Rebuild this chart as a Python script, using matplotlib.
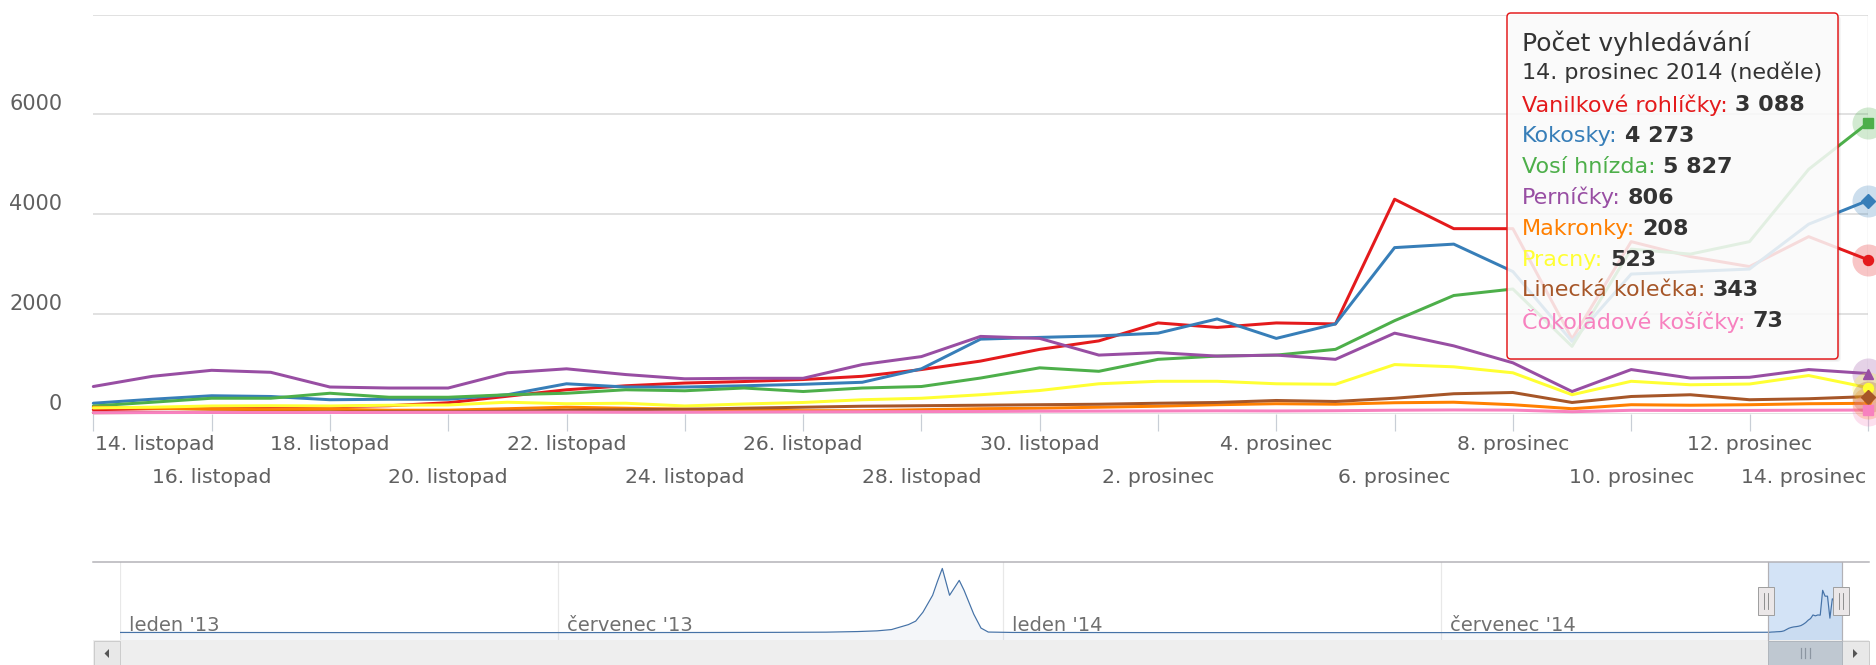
import matplotlib
matplotlib.use("Agg")
import matplotlib.pyplot as plt
from matplotlib.patches import Rectangle, FancyBboxPatch, Polygon
import pandas as pd

# denní počty vyhledávání (14. 11. - 14. 12. 2014)
dny = pd.date_range("2014-11-14", "2014-12-14", freq="D")

nazvy = ["Vanilkové rohlíčky", "Kokosky", "Vosí hnízda", "Perníčky",
         "Makronky", "Pracny", "Linecká kolečka", "Čokoládové košíčky"]
barvy = ["#E41A1C", "#377EB8", "#4DAF4A", "#984EA3",
         "#FF7F00", "#FFFF33", "#A65628", "#F781BF"]
symboly = ["o", "D", "s", "^", "v", "o", "D", "s"]

vanilkove_rohlicky = [80, 100, 110, 130, 140, 160, 220, 350, 480, 560, 615, 645, 685, 750, 885, 1055,
                      1290, 1460, 1820, 1730, 1820, 1800, 4300, 3710, 3710, 1500, 3450, 3150, 2950, 3550, 3088]
kokosky = [210, 290, 360, 345, 280, 290, 290, 380, 600, 535, 535, 560, 590, 630, 900, 1495,
           1530, 1560, 1615, 1900, 1510, 1800, 3330, 3400, 2850, 1450, 2800, 2850, 2900, 3800, 4273]
vosi_hnizda = [155, 230, 310, 310, 410, 330, 330, 380, 410, 480, 460, 515, 445, 515, 545, 715,
               920, 850, 1090, 1155, 1175, 1290, 1865, 2370, 2500, 1350, 3300, 3200, 3450, 4900, 5827]
pernicky = [545, 750, 870, 830, 535, 515, 515, 820, 900, 785, 700, 710, 710, 985, 1145, 1550,
            1510, 1175, 1225, 1155, 1175, 1090, 1615, 1360, 1020, 445, 885, 715, 730, 885, 806]
makronky = [130, 110, 90, 80, 90, 70, 70, 100, 130, 110, 90, 70, 60, 60, 80, 100,
            110, 130, 150, 180, 200, 190, 220, 230, 180, 100, 180, 170, 180, 200, 208]
pracny = [115, 130, 155, 160, 155, 170, 175, 230, 200, 210, 155, 195, 225, 280, 310, 380,
          465, 600, 650, 650, 600, 590, 985, 940, 820, 380, 650, 580, 595, 765, 523]
linecka_kolecka = [20, 25, 30, 30, 35, 40, 40, 50, 70, 80, 90, 110, 130, 150, 160, 170,
                   180, 190, 210, 225, 265, 245, 310, 400, 425, 225, 345, 380, 280, 300, 343]
cokoladove_kosicky = [20, 22, 25, 25, 24, 26, 28, 30, 32, 30, 30, 35, 38, 40, 42, 45,
                      50, 52, 55, 58, 55, 60, 70, 75, 72, 40, 68, 65, 66, 70, 73]
serie = [vanilkove_rohlicky, kokosky, vosi_hnizda, pernicky,
         makronky, pracny, linecka_kolecka, cokoladove_kosicky]

# navigátor = historie první série; řídké body, konec doplní denní data výše
nav_datumy = ["2013-01-01", "2013-02-01", "2013-03-01", "2013-04-01", "2013-05-01", "2013-06-01",
              "2013-07-01", "2013-08-01", "2013-09-01", "2013-10-01", "2013-10-20", "2013-11-02",
              "2013-11-10", "2013-11-16", "2013-11-23", "2013-11-26", "2013-11-29", "2013-12-03",
              "2013-12-05", "2013-12-07", "2013-12-10", "2013-12-14", "2013-12-16", "2013-12-20",
              "2013-12-23", "2013-12-26", "2014-01-05", "2014-03-01", "2014-06-01", "2014-09-01",
              "2014-10-15", "2014-11-01"]
nav_hodnoty = [60, 55, 50, 45, 40, 40, 45, 50, 55, 70, 90, 150,
               220, 350, 850, 1200, 2100, 3800, 5200, 6500, 3800, 5300, 4300, 1900,
               500, 100, 60, 45, 40, 50, 60, 70]

popisky_x = ["14. listopad", "16. listopad", "18. listopad", "20. listopad", "22. listopad",
             "24. listopad", "26. listopad", "28. listopad", "30. listopad", "2. prosinec",
             "4. prosinec", "6. prosinec", "8. prosinec", "10. prosinec", "12. prosinec", "14. prosinec"]
hodnoty_y = [0, 2000, 4000, 6000]
mesice_nav = ["2013-01-01", "2013-07-01", "2014-01-01", "2014-07-01"]
popisky_nav = ["leden '13", "červenec '13", "leden '14", "červenec '14"]
nadpis_tooltipu = "Počet vyhledávání"
datum_tooltipu = "14. prosinec 2014 (neděle)"

W, H = 1876, 665
PX = 0.72  # 1 px v bodech při dpi 100
SEDA = "#606060"

fig = plt.figure(figsize=(W / 100, H / 100), dpi=100)


def box(x0, y0, x1, y1):
    # pixely (počátek vlevo nahoře) -> souřadnice figury
    return [x0 / W, 1 - y1 / H, (x1 - x0) / W, (y1 - y0) / H]


# --- hlavní graf ---
ax = fig.add_axes(box(93.3, 14.7, 1867.8, 413.7))
ax.set_xlim(dny[0], dny[-1])
ax.set_ylim(0, 8000)
for s in ax.spines.values():
    s.set_visible(False)
ax.set_yticks([0, 2000, 4000, 6000, 8000])
ax.yaxis.grid(True, color="#D8D8D8", lw=1.5 * PX)
ax.tick_params(axis="y", length=0, labelleft=False)
ax.set_xticks(dny[::2])
ax.tick_params(axis="x", length=17 * PX, width=1.2 * PX, color="#C8CED6", labelbottom=False)
ax.set_axisbelow(True)

for v in hodnoty_y:
    ax.annotate(str(v), xy=(0, v), xycoords=("axes fraction", "data"), xytext=(-31, 10),
                textcoords="offset pixels", ha="right", va="center", fontsize=15, color=SEDA)

for i, (d, lab) in enumerate(zip(dny[::2], popisky_x)):
    dy = -31 if i % 2 == 0 else -64
    ha, dx = "center", 0
    if i == 0:
        ha, dx = "left", 2
    elif i == len(popisky_x) - 1:
        ha, dx = "right", -2
    ax.annotate(lab, xy=(d, 0), xytext=(dx, dy), textcoords="offset pixels",
                ha=ha, va="center", fontsize=14.7, color=SEDA, annotation_clip=False)

# svislá čára kurzoru u posledního dne
ax.axvline(dny[-1], color="#C0C0C0", lw=1.2 * PX, zorder=2)

for i, (vals, c, m) in enumerate(zip(serie, barvy, symboly)):
    ax.plot(dny, vals, color=c, lw=3 * PX, clip_on=False, zorder=3 + i,
            solid_joinstyle="round", solid_capstyle="round")
    ax.plot(dny[-1], vals[-1], "o", ms=32 * PX, color=c, alpha=0.25, mec="none",
            clip_on=False, zorder=12)
    ax.plot(dny[-1], vals[-1], marker=m, ms=10 * PX, color=c, mec=c, clip_on=False, zorder=13)

# --- navigátor ---
nav = fig.add_axes(box(120, 562, 1842, 640))
nav_x = list(pd.to_datetime(nav_datumy)) + list(dny)
nav_y = nav_hodnoty + vanilkove_rohlicky
nav.set_xlim(pd.Timestamp("2013-01-01"), dny[-1])
nav.set_ylim(-700, 7150)
nav.axis("off")
nav.axvspan(dny[0], dny[-1], color="#D3E3F6", zorder=0)
for m_, lab in zip(mesice_nav, popisky_nav):
    d = pd.Timestamp(m_)
    nav.axvline(d, color="#E8E8E8", lw=1.2 * PX, zorder=1)
    nav.annotate(lab, xy=(d, 0), xycoords=("data", "axes fraction"), xytext=(9, 9),
                 textcoords="offset pixels", ha="left", va="baseline", fontsize=14, color="#707070")
nav.fill_between(nav_x, nav_y, -700, color="#4572A7", alpha=0.06, lw=0, zorder=2)
nav.plot(nav_x, nav_y, color="#4572A7", lw=1.2 * PX, zorder=3)

# --- dekorace v pixelech (navigátor, posuvník, tooltip) ---
ov = fig.add_axes([0, 0, 1, 1])
ov.set_xlim(0, W)
ov.set_ylim(H, 0)
ov.axis("off")

ov.plot([93, 1869], [562, 562], color="#B2B1B6", lw=1.5 * PX)
for xx in (1768, 1842):
    ov.plot([xx, xx], [562, 640], color="#B2B1B6", lw=1.2 * PX)

# posuvník
ov.add_patch(Rectangle((93, 640), 1776, 25, fc="#EEEEEE", ec="none"))
ov.add_patch(Rectangle((93.5, 640.5), 26.5, 25, fc="#E8E8E8", ec="#CCCCCC", lw=1 * PX))
ov.add_patch(Rectangle((1842, 640.5), 26.5, 25, fc="#E8E8E8", ec="#CCCCCC", lw=1 * PX))
ov.add_patch(Polygon([(109, 649), (109, 658), (104.5, 653.5)], closed=True, fc="#555555", ec="none"))
ov.add_patch(Polygon([(1853, 649), (1853, 658), (1857.5, 653.5)], closed=True, fc="#555555", ec="none"))
ov.add_patch(Rectangle((1768, 640.5), 74, 25, fc="#BFC8D1", ec="#B0B6BD", lw=1 * PX))
for xx in (1800.5, 1805, 1809.5):
    ov.plot([xx, xx], [648, 658], color="#8C96A1", lw=1.2 * PX)

# úchyty výběru
for x0 in (1758, 1833):
    ov.add_patch(Rectangle((x0, 587), 16, 28, fc="#EBE7E8", ec="#A0A0A0", lw=1 * PX, zorder=5))
    for xx in (x0 + 6, x0 + 10):
        ov.plot([xx, xx], [593, 609], color="#7A7A7A", lw=0.8 * PX, zorder=6)

# tooltip
for k in range(3, 0, -1):
    ov.add_patch(FancyBboxPatch((1507 + k, 13 + k), 331, 346, boxstyle="round,pad=0,rounding_size=4",
                                fc="black", ec="none", alpha=0.04, zorder=7))
ov.add_patch(FancyBboxPatch((1507, 13), 331, 346, boxstyle="round,pad=0,rounding_size=4",
                            fc=(1, 1, 1, 0.85), ec="#E41A1C", lw=1.5 * PX, zorder=8))
ov.text(1522, 43, nadpis_tooltipu, fontsize=18, color="#333333", va="center", zorder=9)
ov.text(1522, 72, datum_tooltipu, fontsize=16, color="#333333", va="center", zorder=9)

r = fig.canvas.get_renderer()
for i, (n, c, vals) in enumerate(zip(nazvy, barvy, serie)):
    y = 105 + 30.9 * i
    t = ov.text(1522, y, n + ":", fontsize=16, color=c, va="center", zorder=9)
    bb = t.get_window_extent(renderer=r)
    hodnota = f"{vals[-1]:,}".replace(",", " ")
    ov.text(bb.x1 + 7, y, hodnota, fontsize=16, fontweight="bold", color="#333333",
            va="center", zorder=9)

fig.savefig("out.png", dpi=100)
